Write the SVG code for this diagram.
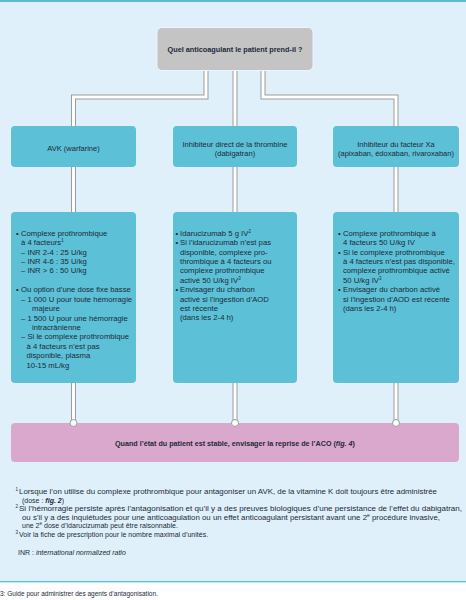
<svg xmlns="http://www.w3.org/2000/svg" width="466" height="600" viewBox="0 0 466 600">
<defs>
<style>
text{font-family:"Liberation Sans",Arial,sans-serif;fill:#1d2a38}
.h{font-size:7.5px}
.b{font-size:7.7px}
.t{font-size:7px;font-weight:bold}
.f{font-size:7px}
.sup{font-size:4.5px}
.cg{fill:none;stroke:#9c9c9c;stroke-width:5}
.cw{fill:none;stroke:#ffffff;stroke-width:3}
.teal{fill:#5cc0d7}
</style>
</defs>
<rect x="0" y="0" width="466" height="600" fill="#ffffff"/>
<rect x="0" y="0" width="466" height="582" fill="#dff0fb"/>
<rect x="0" y="0" width="466" height="2" fill="#5bbcd3"/>
<rect x="0" y="581" width="466" height="1.3" fill="#5bbcd3"/>

<g id="connectors">
<path class="cg" d="M206 71V97H73.5V126"/>
<path class="cg" d="M235 71V126"/>
<path class="cg" d="M263 71V97H396V126"/>
<path class="cg" d="M73.5 167V212M235 167V212M396 167V212"/>
<path class="cg" d="M73.5 383V423M235 383V423M396 383V423"/>
<path class="cw" d="M206 71V97H73.5V126"/>
<path class="cw" d="M235 71V126"/>
<path class="cw" d="M263 71V97H396V126"/>
<path class="cw" d="M73.5 167V212M235 167V212M396 167V212"/>
<path class="cw" d="M73.5 383V423M235 383V423M396 383V423"/>
</g>

<g id="q">
<rect x="157" y="27.5" width="156" height="43" rx="5" fill="#c4c4c4" stroke="#eef4f8" stroke-width="1"/>
<text class="t" x="235" y="51.5" text-anchor="middle" textLength="135" lengthAdjust="spacingAndGlyphs">Quel anticoagulant le patient prend-il ?</text>
</g>

<g id="avk">
<rect class="teal" x="11" y="126" width="125" height="41" rx="4"/>
<text class="h" x="73.5" y="150.5" text-anchor="middle">AVK (warfarine)</text>
</g>
<g id="thrombine">
<rect class="teal" x="173" y="126" width="124" height="41" rx="4"/>
<text class="h" x="235" y="146.5" text-anchor="middle">Inhibiteur direct de la thrombine</text>
<text class="h" x="235" y="155.5" text-anchor="middle">(dabigatran)</text>
</g>
<g id="xa">
<rect class="teal" x="333" y="126" width="126" height="41" rx="4"/>
<text class="h" x="396" y="146.5" text-anchor="middle">Inhibiteur du facteur Xa</text>
<text class="h" x="396" y="155.5" text-anchor="middle">(apixaban, édoxaban, rivaroxaban)</text>
</g>

<g id="avk-detail">
<rect class="teal" x="11" y="212" width="125" height="171" rx="4"/>
<g class="b">
<text x="16" y="235.8">•</text><text x="21" y="235.8">Complexe prothrombique</text>
<text x="21" y="245.2">à 4 facteurs<tspan class="sup" dy="-3">1</tspan></text>
<text x="21" y="254.6">– INR 2-4 : 25 U/kg</text>
<text x="21" y="264">– INR 4-6 : 35 U/kg</text>
<text x="21" y="273.4">– INR &gt; 6 : 50 U/kg</text>
<text x="16" y="292.3">•</text><text x="21" y="292.3">Ou option d’une dose fixe basse</text>
<text x="21" y="301.7">– 1 000 U pour toute hémorragie</text>
<text x="32" y="311.1">majeure</text>
<text x="21" y="320.5">– 1 500 U pour une hémorragie</text>
<text x="32" y="329.9">intracrânienne</text>
<text x="21" y="339.3">– Si le complexe prothrombique</text>
<text x="26.5" y="348.7">à 4 facteurs n’est pas</text>
<text x="26.5" y="358.1">disponible, plasma</text>
<text x="26.5" y="367.5">10-15 mL/kg</text>
</g>
</g>

<g id="thrombine-detail">
<rect class="teal" x="173" y="212" width="124" height="171" rx="4"/>
<g class="b">
<text x="175.5" y="235.8">•</text><text x="180" y="235.8">Idarucizumab 5 g IV<tspan class="sup" dy="-3">2</tspan></text>
<text x="175.5" y="245.2">•</text><text x="180" y="245.2">Si l’idarucizumab n’est pas</text>
<text x="180" y="254.6">disponible, complexe pro-</text>
<text x="180" y="264">thrombique à 4 facteurs ou</text>
<text x="180" y="273.4">complexe prothrombique</text>
<text x="180" y="282.8">activé 50 U/kg IV<tspan class="sup" dy="-3">3</tspan></text>
<text x="175.5" y="292.2">•</text><text x="180" y="292.2">Envisager du charbon</text>
<text x="180" y="301.6">activé si l’ingestion d’AOD</text>
<text x="180" y="311">est récente</text>
<text x="180" y="320.4">(dans les 2-4 h)</text>
</g>
</g>

<g id="xa-detail">
<rect class="teal" x="333" y="212" width="126" height="171" rx="4"/>
<g class="b">
<text x="338" y="235.8">•</text><text x="343" y="235.8">Complexe prothrombique à</text>
<text x="343" y="245.2">4 facteurs 50 U/kg IV</text>
<text x="338" y="254.6">•</text><text x="343" y="254.6">Si le complexe prothrombique</text>
<text x="343" y="264">à 4 facteurs n’est pas disponible,</text>
<text x="343" y="273.4">complexe prothrombique activé</text>
<text x="343" y="282.8">50 U/kg IV<tspan class="sup" dy="-3">3</tspan></text>
<text x="338" y="292.2">•</text><text x="343" y="292.2">Envisager du charbon activé</text>
<text x="343" y="301.6">si l’ingestion d’AOD est récente</text>
<text x="343" y="311">(dans les 2-4 h)</text>
</g>
</g>

<g id="reprise">
<rect x="11" y="423" width="448" height="39" rx="4" fill="#dba8cd"/>
<circle cx="73.5" cy="423" r="3.5" fill="#fff" stroke="#9c9c9c" stroke-width="1"/>
<circle cx="235" cy="423" r="3.5" fill="#fff" stroke="#9c9c9c" stroke-width="1"/>
<circle cx="396" cy="423" r="3.5" fill="#fff" stroke="#9c9c9c" stroke-width="1"/>
<text class="t" x="235" y="445.5" text-anchor="middle" textLength="240" lengthAdjust="spacingAndGlyphs">Quand l’état du patient est stable, envisager la reprise de l’ACO (<tspan font-style="italic">fig. 4</tspan>)</text>
</g>

<g id="notes" class="f">
<text x="15.5" y="494"><tspan class="sup" dy="-3">1</tspan><tspan x="19" dy="3" textLength="418" lengthAdjust="spacingAndGlyphs">Lorsque l’on utilise du complexe prothrombique pour antagoniser un AVK, de la vitamine K doit toujours être administrée</tspan></text>
<text x="22" y="502.5">(dose : <tspan font-weight="bold" font-style="italic">fig. 2</tspan>)</text>
<text x="15.5" y="511"><tspan class="sup" dy="-3">2</tspan><tspan x="19" dy="3" textLength="443" lengthAdjust="spacingAndGlyphs">Si l’hémorragie persiste après l’antagonisation et qu’il y a des preuves biologiques d’une persistance de l’effet du dabigatran,</tspan></text>
<text x="22" y="519.5" textLength="418" lengthAdjust="spacingAndGlyphs">ou s’il y a des inquiétudes pour une anticoagulation ou un effet anticoagulant persistant avant une 2<tspan class="sup" dy="-3">e</tspan><tspan dy="3"> procédure invasive,</tspan></text>
<text x="22" y="528">une 2<tspan class="sup" dy="-3">e</tspan><tspan dy="3"> dose d’idarucizumab peut être raisonnable.</tspan></text>
<text x="15.5" y="536.5"><tspan class="sup" dy="-3">3</tspan><tspan x="19" dy="3">Voir la fiche de prescription pour le nombre maximal d’unités.</tspan></text>
<text x="18" y="555">INR : <tspan font-style="italic">international normalized ratio</tspan></text>
</g>

<text x="0" y="595.5" font-size="6.5px">3: Guide pour administrer des agents d’antagonisation.</text>
</svg>
